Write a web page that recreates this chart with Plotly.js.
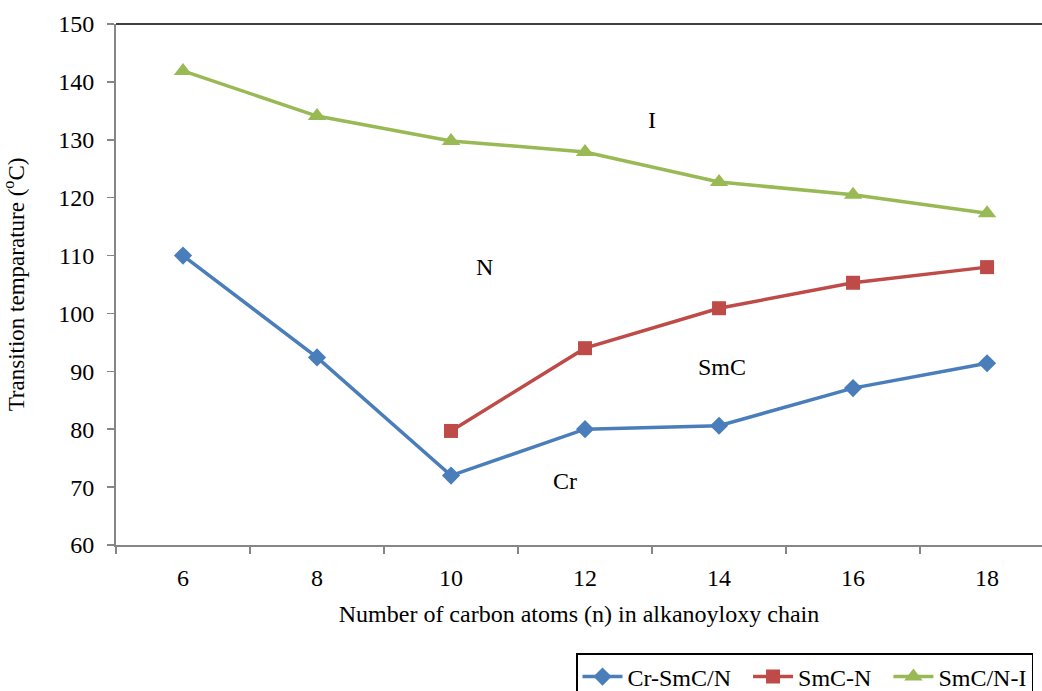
<!DOCTYPE html>
<html>
<head>
<meta charset="utf-8">
<script src="https://cdn.plot.ly/plotly-3.0.1.min.js"></script>
<style>html,body{margin:0;padding:0;background:#fff;}#chart{width:1042px;height:691px;}</style>
</head>
<body>
<div id="chart"></div>
<script>
var carbonAtoms = [6, 8, 10, 12, 14, 16, 18];
var crSmcN = [110, 92.4, 72, 80, 80.6, 87.1, 91.4];
var smcNx = [10, 12, 14, 16, 18];
var smcN = [79.7, 94, 100.9, 105.3, 108];
var smcNI = [141.9, 134.1, 129.8, 127.9, 122.7, 120.5, 117.3];
var seriesNames = ['Cr-SmC/N', 'SmC-N', 'SmC/N-I'];
var phaseLabels = ['I', 'N', 'SmC', 'Cr'];
var phaseX = [13, 10.5, 14.05, 11.7];
var phaseY = [133.4, 108, 90.8, 71];
var yTicks = [60, 70, 80, 90, 100, 110, 120, 130, 140, 150];

var serif = '"Liberation Serif", "Times New Roman", serif';
var pad = '\u00a0\u00a0';
var traces = [
  {x: carbonAtoms, y: crSmcN, name: seriesNames[0] + pad, mode: 'lines+markers',
   line: {color: '#4a7ebb', width: 3.5}, marker: {symbol: 'diamond', size: 14, color: '#4a7ebb'}},
  {x: smcNx, y: smcN, name: seriesNames[1] + pad, mode: 'lines+markers',
   line: {color: '#be4b48', width: 3.5}, marker: {symbol: 'square', size: 14, color: '#be4b48'}},
  {x: carbonAtoms, y: smcNI, name: seriesNames[2], mode: 'lines+markers',
   line: {color: '#98b954', width: 3.5}, marker: {symbol: 'triangle-up', size: 16, color: '#98b954'}}
];

var annotations = phaseLabels.map(function (t, i) {
  return {x: phaseX[i], y: phaseY[i], xref: 'x', yref: 'y', text: t, showarrow: false,
          font: {family: serif, size: 24, color: '#000'}};
});

var layout = {
  width: 1042, height: 691,
  margin: {l: 116, r: 0, t: 24, b: 146, pad: 0, autoexpand: false},
  paper_bgcolor: '#fff', plot_bgcolor: '#fff',
  font: {family: serif, color: '#000'},
  showlegend: true,
  legend: {orientation: 'h', xref: 'container', yref: 'container', x: 576 / 1042, xanchor: 'left',
           y: 1 - 653 / 691, yanchor: 'top',
           bordercolor: '#000', borderwidth: 1.5, font: {family: serif, size: 24, color: '#000'},
           itemwidth: 40, tracegroupgap: 0},
  xaxis: {
    range: [5, 18.82], tickvals: carbonAtoms, ticks: '', showgrid: false, zeroline: false,
    showline: true, linecolor: '#868686', linewidth: 2,
    tickfont: {family: serif, size: 24, color: '#000'},
    minor: {tick0: 5, dtick: 2, ticks: 'outside', ticklen: 7, tickwidth: 1.5, tickcolor: '#868686', showgrid: false},
    ticklabelstandoff: 10,
    title: {text: 'Number of carbon atoms (n) in alkanoyloxy chain', font: {family: serif, size: 24, color: '#000'}, standoff: 15}
  },
  yaxis: {
    range: [60, 150], tickvals: yTicks, ticks: 'outside', ticklen: 7, tickwidth: 1.5, tickcolor: '#868686',
    showgrid: false, zeroline: false, showline: true, linecolor: '#868686', linewidth: 2,
    tickfont: {family: serif, size: 24, color: '#000'},
    ticklabelstandoff: 8,
    title: {text: 'Transition temparature (<sup>o</sup>C)', font: {family: serif, size: 23, color: '#000'}, standoff: 31}
  },
  shapes: [{type: 'line', xref: 'paper', yref: 'paper', x0: 0, x1: 1, y0: 1, y1: 1,
            line: {color: '#404040', width: 2}}],
  annotations: annotations
};

Plotly.newPlot('chart', traces, layout, {displayModeBar: false, staticPlot: true});
</script>
</body>
</html>
